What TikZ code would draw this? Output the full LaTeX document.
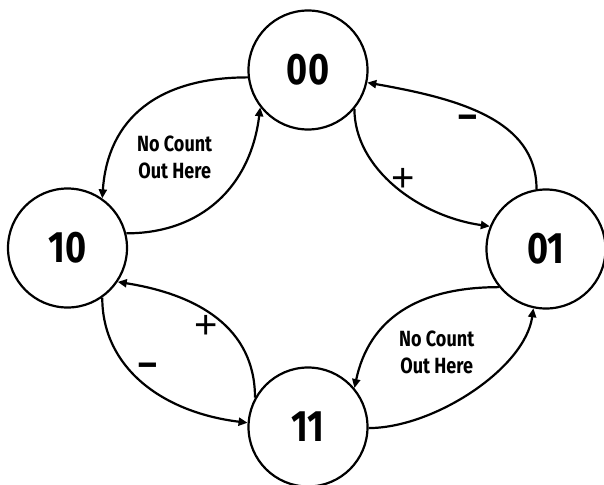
\documentclass[tikz,border=0pt]{standalone}
\usepackage{fontspec}
\setmainfont{Fira Sans}[FakeStretch=0.82]
\newfontfamily\signfont{Fira Sans}
\newfontfamily\plusfont{Liberation Sans}
\usetikzlibrary{arrows.meta}
\begin{document}
\begin{tikzpicture}[x=1pt,y=1pt,
  state/.style={draw, circle, line width=2.2pt, minimum size=119pt, inner sep=0pt,
    font=\bfseries\fontsize{44}{44}\selectfont},
  trans/.style={line width=2.2pt, -{Triangle[length=9pt,width=8pt]}},
  note/.style={font=\bfseries\fontsize{22}{27.6}\selectfont, align=center, inner sep=0pt},
  plussign/.style={font=\plusfont\fontsize{40}{40}\selectfont, inner sep=0pt},
  minussign/.style={font=\signfont\bfseries\fontsize{36}{36}\selectfont, inner sep=0pt}]
\useasboundingbox (0,0) rectangle (604,-484);
\node[state] (s00) at (308,-70) {00};
\node[state] (s10) at (67.5,-248) {10};
\node[state] (s01) at (546,-249) {01};
\node[state] (s11) at (308,-427) {11};

\draw[trans] (s00.187) to[out=180,in=86,out distance=90pt,in distance=80pt] (s10.55);
\draw[trans] (s10.14) to[out=0,in=263,out distance=75pt,in distance=80pt] (s00.218);
\draw[trans] (s00.320) to[out=270,in=172,out distance=60pt,in distance=71pt] (s01.158);
\draw[trans] (s01.99) to[out=90,in=350,out distance=70pt,in distance=91pt] (s00.348);
\draw[trans] (s10.305) to[out=270,in=173,out distance=70pt,in distance=86pt] (s11.176);
\draw[trans] (s11.151) to[out=90,in=351,out distance=70pt,in distance=81pt] (s10.326);
\draw[trans] (s01.219) to[out=180,in=78,out distance=82pt,in distance=70pt] (s11.40);
\draw[trans] (s11.359) to[out=0,in=262,out distance=65pt,in distance=61pt] (s01.258);

\node[note] (n1) at (174.7,-157.2) {No Count\\Out Here};
\node[note] (n2) at (436.7,-352.2) {No Count\\Out Here};
\node[plussign] (p1) at (403.3,-179.7) {+};
\node[minussign] (m1) at (468.3,-122.2) {–};
\node[plussign] (p2) at (206,-327.2) {+};
\node[minussign] (m2) at (147.7,-369.7) {–};
\end{tikzpicture}
\end{document}
